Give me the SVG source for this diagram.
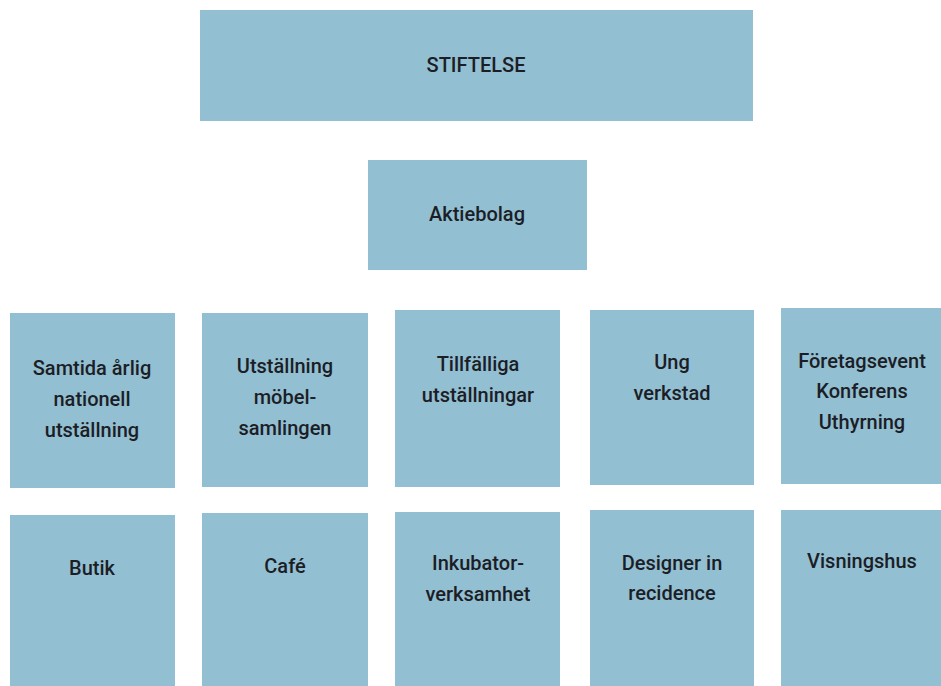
<svg xmlns="http://www.w3.org/2000/svg" width="941" height="686" viewBox="0 0 941 686">
<style>
.box{fill:#93bfd3;}
.t{font-family:Roboto,"Open Sans","Liberation Sans",sans-serif;font-size:20px;font-weight:500;fill:#1c1e26;text-anchor:middle;}
</style>
<rect width="941" height="686" fill="#ffffff"/>
<g id="connectors"></g>
<g id="stiftelse"><rect class="box" x="200" y="10" width="553" height="111"/><text class="t" x="476" y="72">STIFTELSE</text></g>
<g id="aktiebolag"><rect class="box" x="368" y="160" width="219" height="110"/><text class="t" x="477" y="221">Aktiebolag</text></g>
<g id="samtida"><rect class="box" x="10" y="313" width="165" height="175"/><text class="t" x="92" y="375">Samtida årlig</text><text class="t" x="92" y="406">nationell</text><text class="t" x="92" y="437">utställning</text></g>
<g id="utstallning"><rect class="box" x="202" y="313" width="166" height="174"/><text class="t" x="285" y="373">Utställning</text><text class="t" x="285" y="404">möbel-</text><text class="t" x="285" y="435">samlingen</text></g>
<g id="tillfalliga"><rect class="box" x="395" y="310" width="165" height="177"/><text class="t" x="478" y="371">Tillfälliga</text><text class="t" x="478" y="402">utställningar</text></g>
<g id="ung"><rect class="box" x="590" y="310" width="164" height="175"/><text class="t" x="672" y="369">Ung</text><text class="t" x="672" y="400">verkstad</text></g>
<g id="foretagsevent"><rect class="box" x="781" y="308" width="160" height="176"/><text class="t" x="862" y="368">Företagsevent</text><text class="t" x="862" y="398">Konferens</text><text class="t" x="862" y="429">Uthyrning</text></g>
<g id="butik"><rect class="box" x="10" y="515" width="165" height="171"/><text class="t" x="92" y="575">Butik</text></g>
<g id="cafe"><rect class="box" x="202" y="513" width="166" height="173"/><text class="t" x="285" y="573">Café</text></g>
<g id="inkubator"><rect class="box" x="395" y="512" width="165" height="174"/><text class="t" x="478" y="570">Inkubator-</text><text class="t" x="478" y="601">verksamhet</text></g>
<g id="designer"><rect class="box" x="590" y="510" width="164" height="176"/><text class="t" x="672" y="570">Designer in</text><text class="t" x="672" y="600">recidence</text></g>
<g id="visningshus"><rect class="box" x="781" y="510" width="160" height="176"/><text class="t" x="862" y="568">Visningshus</text></g>
</svg>
